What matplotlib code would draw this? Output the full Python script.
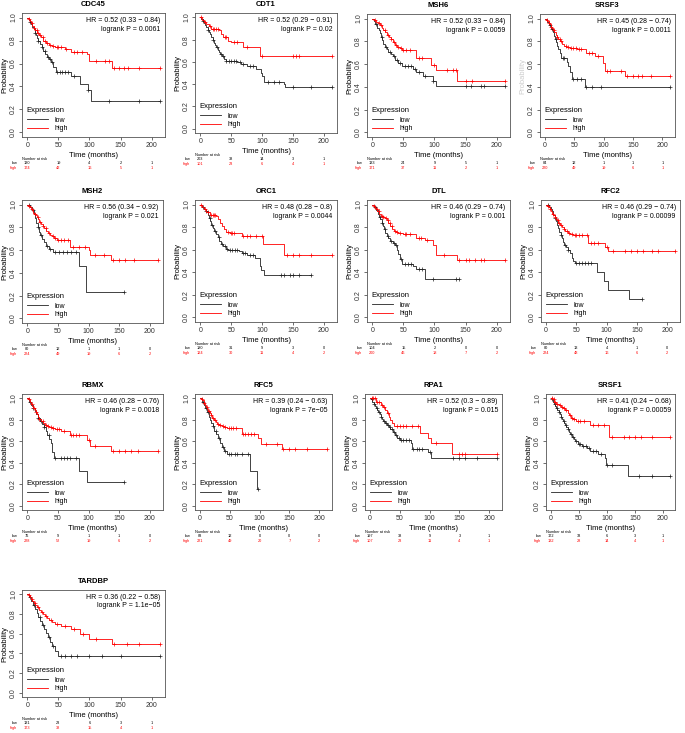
import numpy as np
import matplotlib
matplotlib.use("Agg")
import matplotlib.pyplot as plt
import matplotlib.transforms as mtrans

plt.rcParams['font.family'] = ['Liberation Sans', 'DejaVu Sans']

# ---- data ----
genes = ["CDC45", "CDT1", "MSH6", "SRSF3", "MSH2", "ORC1", "DTL", "RFC2",
         "RBMX", "RFC5", "RPA1", "SRSF1", "TARDBP"]
hr_text = ["0.52 (0.33 − 0.84)", "0.52 (0.29 − 0.91)", "0.52 (0.33 − 0.84)", "0.45 (0.28 − 0.74)",
           "0.56 (0.34 − 0.92)", "0.48 (0.28 − 0.8)", "0.46 (0.29 − 0.74)", "0.46 (0.29 − 0.74)",
           "0.46 (0.28 − 0.76)", "0.39 (0.24 − 0.63)", "0.52 (0.3 − 0.89)", "0.41 (0.24 − 0.68)",
           "0.36 (0.22 − 0.58)"]
p_text = ["0.0061", "0.02", "0.0059", "0.0011", "0.021", "0.0044", "0.001", "0.00099",
          "0.0018", "7e−05", "0.015", "0.00059", "1.1e−05"]
risk_times = [0, 50, 100, 150, 200]
risk_low = [[130, 19, 4, 2, 1], [203, 38, 14, 3, 1], [133, 24, 9, 5, 1], [84, 12, 1, 1, 1],
            [80, 12, 1, 1, 0], [180, 31, 9, 3, 0], [104, 15, 2, 0, 0], [80, 13, 4, 1, 0],
            [76, 9, 1, 1, 0], [83, 12, 0, 0, 0], [197, 38, 9, 3, 1], [172, 33, 6, 3, 1],
            [131, 23, 6, 3, 1]]
risk_high = [[174, 42, 16, 5, 1], [101, 23, 6, 4, 1], [171, 37, 11, 2, 1], [220, 49, 19, 6, 1],
             [224, 49, 19, 6, 2], [124, 30, 11, 4, 2], [200, 46, 18, 7, 2], [224, 48, 16, 6, 2],
             [228, 52, 19, 6, 2], [221, 49, 20, 7, 2], [107, 23, 11, 4, 1], [132, 28, 14, 4, 1],
             [173, 38, 15, 4, 1]]

# step times, survival after each step, last follow-up, censor times
low_t = [
    [2,4,6,8,10,12,14,16,18,20,23,26,29,32,35,38,42,46,70,84,97,103],
    [2,4,6,8,10,12,14,16,18,20,22,24,26,28,30,32,35,38,41,60,66,75,90,98,100,103,135,137],
    [3,5,8,10,12,14,16,18,20,23,26,30,33,37,42,48,65,70,82,97,102],
    [4,7,10,13,15,17,19,21,23,25,28,37,40,43,46,68],
    [5,8,11,13,15,17,19,21,24,27,30,35,42,84,96],
    [3,6,9,12,14,16,18,20,22,25,28,31,34,37,41,45,62,68,75,88,96,98,103],
    [3,6,9,11,13,15,17,19,21,23,26,29,33,36,39,42,44,48,65,70,84],
    [5,8,10,12,14,16,18,20,22,24,26,28,30,33,36,39,42,45,47,84,96,103,137],
    [3,6,9,12,15,18,21,24,27,30,33,36,38,41,44,84,97],
    [3,6,9,12,15,17,19,21,24,27,30,33,36,40,45,84,96],
    [2,4,6,8,10,12,14,16,18,20,22,25,28,31,34,38,42,46,50,68,70,97,103],
    [2,4,6,8,10,12,14,16,18,20,22,24,26,28,30,32,35,38,41,44,48,55,65,70,84,96,98,138],
    [3,6,9,12,15,18,21,24,27,30,33,36,40,45,50],
]
low_s = [
    [.98,.96,.94,.92,.90,.87,.85,.82,.80,.77,.74,.71,.68,.66,.64,.61,.57,.53,.49,.42,.37,.27],
    [.99,.97,.95,.93,.91,.89,.87,.85,.82,.80,.77,.75,.73,.71,.69,.67,.65,.63,.61,.60,.58,.56,.54,.50,.47,.42,.40,.37],
    [.98,.95,.92,.90,.87,.84,.81,.78,.75,.73,.71,.69,.67,.64,.61,.58,.56,.53,.50,.45,.41],
    [.97,.94,.91,.88,.85,.82,.79,.76,.73,.70,.65,.62,.58,.53,.47,.40],
    [.98,.95,.92,.88,.84,.80,.76,.73,.70,.67,.64,.61,.58,.46,.23],
    [.98,.96,.94,.91,.88,.85,.82,.79,.77,.74,.71,.68,.65,.63,.61,.60,.59,.57,.55,.53,.46,.42,.38],
    [.98,.95,.92,.89,.87,.84,.81,.78,.75,.72,.70,.68,.66,.64,.60,.56,.52,.47,.46,.43,.34],
    [.98,.96,.94,.91,.88,.85,.82,.79,.76,.73,.70,.67,.64,.62,.60,.57,.53,.50,.48,.40,.32,.24,.16],
    [.97,.94,.91,.88,.85,.82,.79,.76,.73,.70,.66,.62,.58,.50,.44,.32,.22],
    [.97,.94,.91,.87,.83,.80,.77,.74,.70,.67,.63,.58,.55,.51,.48,.32,.16],
    [.99,.97,.95,.93,.91,.89,.87,.85,.83,.81,.79,.77,.75,.73,.71,.69,.66,.63,.61,.58,.53,.50,.44],
    [.99,.97,.95,.93,.91,.89,.87,.85,.83,.81,.79,.77,.75,.73,.71,.69,.67,.64,.62,.60,.57,.56,.54,.51,.48,.44,.38,.28],
    [.97,.93,.89,.85,.81,.77,.73,.69,.65,.61,.57,.52,.47,.42,.37],
]
low_end = [213, 213, 213, 213, 158, 180, 140, 158, 158, 97, 213, 213, 213]
low_c = [
    [5,12,18,24,28,33,36,40,48,52,56,60,66,75,98,132,180,213],
    [5,12,20,27,33,37,42,46,50,55,58,64,70,80,85,110,120,128,150,180,213],
    [6,15,22,28,35,40,45,52,58,63,68,75,85,98,150,158,175,180,213],
    [8,12,18,30,33,48,55,62,70,80,95,213],
    [3,10,18,23,32,37,45,52,58,65,72,80,158],
    [5,10,15,19,24,30,35,40,43,48,52,56,60,70,72,80,85,130,135,145,150,160,180],
    [5,12,16,20,25,30,35,38,46,52,58,62,75,80,97,135,140],
    [3,15,25,32,37,50,55,60,65,70,75,158],
    [5,10,18,22,28,35,45,55,60,65,70,80,158],
    [5,10,14,22,26,32,38,42,48,52,58,62,70,80,97],
    [3,7,11,15,19,23,27,30,33,36,40,44,48,52,55,60,65,72,78,82,88,100,140,150,160,180,213],
    [3,7,11,15,19,23,27,31,36,40,45,50,53,58,62,68,75,80,90,100,110,157,180,213],
    [5,10,20,25,35,42,55,60,70,80,100,120,150,213],
]
high_t = [
    [2,4,6,8,10,13,16,19,22,26,30,35,40,45,60,70,96,100,137],
    [3,6,10,14,18,30,33,37,45,50,70,97],
    [3,6,9,12,15,18,21,24,27,30,33,36,40,44,48,70,95,102,137],
    [2,4,6,8,10,12,14,16,18,20,23,26,29,32,36,42,55,70,85,98,103,137],
    [2,4,6,8,10,12,14,16,18,20,22,25,28,31,34,37,40,44,48,69,100,103,137],
    [3,6,10,15,26,29,32,35,38,42,48,68,102,136],
    [2,4,6,8,11,14,17,20,23,26,29,32,35,38,42,50,70,85,97,103,137],
    [2,4,6,8,10,12,14,16,18,20,23,26,29,32,36,40,45,70,97,103],
    [2,4,6,8,10,12,14,16,18,20,23,26,29,32,36,40,45,55,69,97,103,137],
    [2,4,6,8,10,12,14,16,18,20,23,26,29,32,36,40,45,70,97,103,137],
    [10,18,22,25,28,31,34,37,40,84,97,103,137],
    [3,6,10,14,18,22,26,30,33,36,40,45,70,104],
    [2,4,6,8,10,13,16,19,22,25,28,31,35,40,45,55,70,85,100,137],
]
high_s = [
    [.99,.97,.95,.93,.91,.89,.87,.85,.83,.80,.78,.76,.75,.74,.73,.70,.68,.62,.56],
    [.98,.96,.94,.92,.90,.89,.85,.82,.79,.78,.73,.65],
    [.99,.97,.96,.94,.92,.90,.88,.86,.84,.82,.79,.77,.75,.74,.72,.65,.59,.55,.45],
    [.99,.98,.96,.95,.93,.92,.90,.88,.86,.84,.82,.80,.78,.76,.75,.74,.73,.70,.67,.61,.54,.50],
    [.99,.98,.96,.95,.93,.92,.91,.89,.87,.85,.83,.81,.79,.77,.75,.73,.72,.71,.69,.63,.60,.56,.51],
    [.98,.96,.93,.91,.90,.87,.84,.81,.78,.76,.75,.72,.65,.55],
    [.99,.97,.96,.94,.92,.90,.89,.88,.86,.84,.81,.78,.77,.76,.75,.74,.70,.69,.64,.55,.51],
    [.99,.98,.96,.94,.92,.91,.89,.87,.86,.84,.82,.80,.78,.77,.75,.74,.73,.66,.62,.59],
    [.99,.97,.95,.93,.91,.89,.87,.85,.83,.81,.79,.77,.75,.74,.73,.72,.71,.70,.66,.61,.56,.51],
    [.99,.98,.96,.94,.92,.90,.88,.86,.84,.82,.80,.78,.76,.75,.74,.73,.72,.67,.63,.57,.53],
    [.97,.94,.92,.89,.86,.83,.80,.77,.74,.68,.63,.58,.48],
    [.99,.97,.95,.94,.92,.91,.89,.86,.84,.82,.81,.79,.75,.64],
    [.99,.97,.95,.93,.91,.89,.87,.84,.82,.80,.78,.76,.74,.72,.70,.68,.65,.60,.55,.50],
]
high_end = [213] * 13
high_c = [
    [3,7,11,15,18,21,25,28,32,36,42,47,50,55,63,75,80,88,110,125,132,140,148,155,162,180,213],
    [2,8,15,20,22,25,28,40,42,55,60,75,100,150,155,160,213],
    [5,10,14,20,25,30,35,38,42,46,50,55,60,75,80,100,120,130,135,150,160,213],
    [3,7,11,15,20,25,28,35,40,45,48,52,58,62,75,80,90,105,110,130,140,150,158,165,180,213],
    [3,7,12,17,21,26,30,35,42,46,50,55,60,66,75,85,95,110,125,140,150,160,175,213],
    [2,8,12,18,20,22,24,45,50,52,55,70,75,80,90,100,140,150,160,180,213],
    [3,7,10,15,18,22,25,28,31,36,40,45,52,55,60,75,78,88,115,140,150,155,165,175,180,213],
    [3,7,11,15,19,22,25,30,35,38,42,48,50,55,60,68,75,80,85,100,110,130,140,150,160,175,185,213],
    [3,7,11,15,20,25,30,34,38,42,48,52,60,72,75,80,85,100,110,140,150,160,170,180,213],
    [3,7,11,15,19,22,25,30,34,38,42,48,52,55,60,72,76,80,85,90,110,130,140,150,160,180,213],
    [3,5,8,12,15,20,24,30,45,50,55,60,70,80,110,150,155,160,213],
    [2,5,8,12,16,20,24,28,35,38,42,48,52,60,75,85,95,110,130,140,150,160,180,213],
    [3,7,12,18,24,30,38,48,60,75,90,110,140,160,180,213],
]

# panel boxes in pixels: left, top, right, bottom
boxes = [(22, 13, 165, 137), (195, 13, 337, 133), (367, 14, 510, 137), (540, 14, 675, 137),
         (22, 200, 163, 323), (195, 200, 337, 322), (367, 200, 510, 322), (541, 200, 680, 322),
         (22, 394, 163, 510), (195, 394, 332, 510), (365, 394, 502, 510), (546, 394, 675, 510),
         (22, 590, 165, 697)]

W, H = 685, 733
fig = plt.figure(figsize=(W / 100, H / 100), dpi=100)
RED = '#ff0000'
BLK = '#222222'


def draw_km(ax, t, s, tend, cens, color):
    t = np.asarray(t, float)
    s = np.asarray(s, float)
    x = np.r_[0, t, tend]
    y = np.r_[1, s, s[-1]]
    ax.step(x, y, where='post', color=color, lw=0.6)
    idx = np.searchsorted(t, cens, side='right')
    yc = np.r_[1, s][idx]
    ax.plot(cens, yc, '+', color=color, ms=2.6, mew=0.5)


for i, g in enumerate(genes):
    l, tp, r, b = boxes[i]
    ax = fig.add_axes([l / W, 1 - b / H, (r - l) / W, (b - tp) / H])
    draw_km(ax, low_t[i], low_s[i], low_end[i], low_c[i], BLK)
    draw_km(ax, high_t[i], high_s[i], high_end[i], high_c[i], RED)
    ax.set_xlim(-8.5, 221.5)
    ax.set_ylim(-0.04, 1.04)
    ax.set_xticks([0, 50, 100, 150, 200])
    ax.set_yticks([0, 0.2, 0.4, 0.6, 0.8, 1.0])
    ax.set_yticklabels(['0.0', '0.2', '0.4', '0.6', '0.8', '1.0'], rotation=90, va='center')
    ax.tick_params(labelsize=5, length=2, width=0.5, pad=1.5, colors='#333333')
    for sp in ax.spines.values():
        sp.set_color('#555555')
        sp.set_linewidth(0.6)
    ylab_col = '#cccccc' if g == 'SRSF3' else 'black'
    ax.set_ylabel('Probability', fontsize=5.5, labelpad=1.5, color=ylab_col)
    ax.set_xlabel('Time (months)', fontsize=5.5, labelpad=2)
    ax.set_title(g, fontsize=5.5, fontweight='bold', pad=5)
    ax.text(0.97, 0.965, f"HR = {hr_text[i]}\nlogrank P = {p_text[i]}", transform=ax.transAxes,
            ha='right', va='top', fontsize=5, linespacing=1.3)
    ax.plot([], [], color=BLK, lw=0.6, label='low')
    ax.plot([], [], color=RED, lw=0.6, label='high')
    leg = ax.legend(loc='lower left', title='Expression', fontsize=5, title_fontsize=5.5,
                    frameon=False, handlelength=3, labelspacing=0.2, borderaxespad=0.3,
                    alignment='left', handletextpad=1.0)
    leg._legend_box.sep = 2
    # number at risk table
    tr = mtrans.blended_transform_factory(ax.transData, fig.transFigure)
    fig.text(l / W, 1 - (b + 22) / H, 'Number at risk', fontsize=2.8, va='center')
    fig.text((l - 10) / W, 1 - (b + 26) / H, 'low', fontsize=2.8, va='center', ha='left')
    fig.text((l - 12) / W, 1 - (b + 31) / H, 'high', fontsize=2.8, va='center', ha='left', color=RED)
    for tt, nl, nh in zip(risk_times, risk_low[i], risk_high[i]):
        ax.text(tt, 1 - (b + 26) / H, str(nl), transform=tr, fontsize=2.8, ha='center', va='center')
        ax.text(tt, 1 - (b + 31) / H, str(nh), transform=tr, fontsize=2.8, ha='center', va='center',
                color=RED)

fig.savefig('out.png', dpi=100)
